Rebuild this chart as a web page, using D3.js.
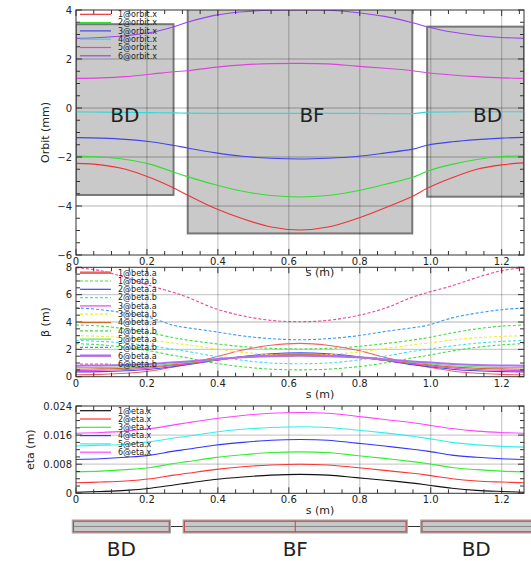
<!DOCTYPE html>
<html>
<head>
<meta charset="utf-8">
<script src="https://cdn.jsdelivr.net/npm/d3@7"></script>
<style>
  body { margin: 0; background: #fff; }
  text { font-family: "DejaVu Sans", sans-serif; fill: #222; }
</style>
</head>
<body>
<script>
var sPos = [0, 0.07, 0.14, 0.21, 0.276, 0.314, 0.39, 0.47, 0.55, 0.631, 0.71, 0.79, 0.87, 0.949, 0.99, 1.06, 1.13, 1.2, 1.263];
var sMax = 1.263;

// lattice elements
var elemNames = ["BD", "BF", "BD"];
var elemStart = [0, 0.315, 0.99];
var elemEnd = [0.275, 0.948, 1.263];
var elemApTop = [3.42, 4.3, 3.32];
var elemApBottom = [-3.55, -5.12, -3.62];

// orbit (mm)
var orbitLabels = ["1@orbit.x", "2@orbit.x", "3@orbit.x", "4@orbit.x", "5@orbit.x", "6@orbit.x"];
var orbitValues = [
  [-2.26, -2.32, -2.5, -2.85, -3.27, -3.55, -4.08, -4.52, -4.86, -4.98, -4.86, -4.52, -4.08, -3.6, -3.28, -2.85, -2.5, -2.32, -2.24],
  [-1.96, -2.0, -2.1, -2.3, -2.62, -2.8, -3.12, -3.4, -3.57, -3.63, -3.57, -3.39, -3.12, -2.83, -2.58, -2.3, -2.1, -1.98, -1.96],
  [-1.21, -1.23, -1.28, -1.38, -1.53, -1.63, -1.82, -1.97, -2.05, -2.08, -2.05, -1.98, -1.84, -1.68, -1.52, -1.38, -1.29, -1.23, -1.2],
  [-0.16, -0.17, -0.18, -0.19, -0.2, -0.21, -0.22, -0.22, -0.22, -0.22, -0.22, -0.22, -0.23, -0.23, -0.17, -0.16, -0.15, -0.15, -0.15],
  [1.21, 1.23, 1.28, 1.38, 1.48, 1.52, 1.66, 1.76, 1.81, 1.82, 1.8, 1.71, 1.62, 1.52, 1.44, 1.35, 1.28, 1.23, 1.21],
  [2.84, 2.88, 2.95, 3.08, 3.32, 3.5, 3.78, 3.93, 3.99, 4.0, 3.99, 3.9, 3.74, 3.48, 3.32, 3.1, 2.96, 2.88, 2.84]
];
var orbitColors = ["#ee3333", "#33dd33", "#4444ee", "#33d8d8", "#dd44dd", "#9944ee"];

// beta (m)
var betaLabels = ["1@beta.a", "1@beta.b", "2@beta.a", "2@beta.b", "3@beta.a", "3@beta.b",
                  "4@beta.a", "4@beta.b", "5@beta.a", "5@beta.b", "6@beta.a", "6@beta.b"];
var betaValues = [
  [0.14, 0.17, 0.25, 0.42, 0.72, 0.92, 1.42, 1.95, 2.3, 2.44, 2.3, 1.95, 1.42, 0.92, 0.72, 0.42, 0.25, 0.17, 0.14],
  [2.42, 2.33, 2.15, 1.88, 1.55, 1.38, 1.0, 0.72, 0.55, 0.5, 0.55, 0.72, 1.0, 1.38, 1.55, 1.88, 2.15, 2.33, 2.42],
  [0.35, 0.37, 0.43, 0.55, 0.75, 0.88, 1.18, 1.48, 1.68, 1.75, 1.68, 1.48, 1.18, 0.88, 0.75, 0.55, 0.43, 0.37, 0.35],
  [2.65, 2.58, 2.45, 2.25, 2.0, 1.85, 1.5, 1.2, 1.0, 0.95, 1.0, 1.2, 1.5, 1.85, 2.0, 2.25, 2.45, 2.58, 2.65],
  [0.45, 0.47, 0.53, 0.64, 0.82, 0.94, 1.2, 1.45, 1.62, 1.68, 1.62, 1.45, 1.2, 0.94, 0.82, 0.64, 0.53, 0.47, 0.45],
  [3.0, 2.95, 2.85, 2.68, 2.45, 2.33, 2.05, 1.78, 1.62, 1.58, 1.62, 1.78, 2.05, 2.33, 2.45, 2.68, 2.85, 2.95, 3.0],
  [0.55, 0.57, 0.62, 0.72, 0.88, 0.98, 1.22, 1.43, 1.57, 1.62, 1.57, 1.43, 1.22, 0.98, 0.88, 0.72, 0.62, 0.57, 0.55],
  [3.78, 3.7, 3.5, 3.2, 2.85, 2.68, 2.42, 2.2, 2.07, 2.03, 2.07, 2.2, 2.42, 2.68, 2.85, 3.2, 3.5, 3.7, 3.78],
  [0.66, 0.68, 0.72, 0.8, 0.95, 1.04, 1.24, 1.42, 1.53, 1.57, 1.53, 1.42, 1.24, 1.04, 0.95, 0.8, 0.72, 0.68, 0.66],
  [5.04, 4.9, 4.65, 4.3, 3.75, 3.58, 3.3, 2.98, 2.78, 2.7, 2.78, 2.98, 3.3, 3.58, 3.75, 4.3, 4.65, 4.9, 5.04],
  [0.8, 0.82, 0.86, 0.93, 1.05, 1.12, 1.28, 1.42, 1.5, 1.53, 1.5, 1.42, 1.28, 1.12, 1.05, 0.93, 0.86, 0.82, 0.8],
  [7.98, 7.75, 7.25, 6.65, 6.15, 5.82, 5.0, 4.45, 4.12, 4.02, 4.12, 4.45, 5.0, 5.82, 6.15, 6.65, 7.25, 7.75, 7.98]
];
var betaColors = ["#f06060", "#44dd44", "#4444ee", "#44ddee", "#ee44ee", "#eeee33",
                  "#cc6622", "#44dd44", "#66dd66", "#3399ff", "#b070f0", "#ee4499"];
var betaDashed = [false, true, false, true, false, true, false, true, false, true, false, true];

// eta (m)
var etaLabels = ["1@eta.x", "2@eta.x", "3@eta.x", "4@eta.x", "5@eta.x", "6@eta.x"];
var etaValues = [
  [0.0003, 0.0005, 0.0008, 0.0014, 0.0023, 0.0028, 0.0038, 0.0045, 0.0050, 0.0052, 0.0050, 0.0043, 0.0036, 0.0028, 0.0023, 0.0014, 0.0008, 0.0005, 0.0003],
  [0.0029, 0.0031, 0.0034, 0.0040, 0.0050, 0.0055, 0.0065, 0.0073, 0.0078, 0.0080, 0.0078, 0.0071, 0.0063, 0.0055, 0.0050, 0.0040, 0.0034, 0.0031, 0.0029],
  [0.0059, 0.0061, 0.0065, 0.0071, 0.0082, 0.0087, 0.0098, 0.0106, 0.0112, 0.0114, 0.0112, 0.0104, 0.0096, 0.0087, 0.0082, 0.0071, 0.0065, 0.0061, 0.0059],
  [0.0093, 0.0095, 0.0099, 0.0105, 0.0116, 0.0121, 0.0132, 0.0140, 0.0146, 0.0148, 0.0146, 0.0138, 0.0130, 0.0121, 0.0116, 0.0105, 0.0099, 0.0095, 0.0093],
  [0.0130, 0.0132, 0.0135, 0.0142, 0.0152, 0.0157, 0.0168, 0.0176, 0.0181, 0.0183, 0.0181, 0.0174, 0.0166, 0.0157, 0.0151, 0.0140, 0.0133, 0.0129, 0.0127],
  [0.0165, 0.0167, 0.0171, 0.0178, 0.0188, 0.0194, 0.0205, 0.0214, 0.0220, 0.0222, 0.0220, 0.0212, 0.0203, 0.0194, 0.0188, 0.0178, 0.0171, 0.0167, 0.0165]
];
var etaColors = ["#111111", "#ff3333", "#33ee33", "#3333ff", "#33eeee", "#ff44ff"];

var xTicks = [0, 0.2, 0.4, 0.6, 0.8, 1.0, 1.2];

var width = 531, height = 561;
var svg = d3.select("body").append("svg").attr("width", width).attr("height", height);

var x = d3.scaleLinear().domain([0, sMax]).range([76, 524]);
var xFmt = function(d) { return d === 0 ? "0" : d3.format(".1f")(d); };
var line = function(y) {
  return d3.line().x(function(d, i) { return x(sPos[i]); }).y(function(d) { return y(d); })
    .curve(d3.curveCatmullRom.alpha(0.5));
};

function panel(opt) {
  var y = d3.scaleLinear().domain(opt.domain).range(opt.range);
  var g = svg.append("g");
  var x0 = x.range()[0], x1 = x.range()[1], y0 = y.range()[0], y1 = y.range()[1];
  var id = "clip" + opt.name;
  svg.append("clipPath").attr("id", id).append("rect")
    .attr("x", x0).attr("y", y1).attr("width", x1 - x0).attr("height", y0 - y1);

  var under = g.append("g").attr("clip-path", "url(#" + id + ")");
  if (opt.under) opt.under(under, y);

  // grid
  var grid = g.append("g").attr("stroke", "rgba(0,0,0,0.2)").attr("stroke-width", 1.3);
  grid.selectAll(".gx").data(xTicks.slice(1)).enter().append("line")
    .attr("x1", x).attr("x2", x).attr("y1", y1).attr("y2", y0);
  grid.selectAll(".gy").data(opt.ticks.slice(1, -1)).enter().append("line")
    .attr("x1", x0).attr("x2", x1).attr("y1", y).attr("y2", y);

  // curves
  var curves = g.append("g").attr("clip-path", "url(#" + id + ")").attr("fill", "none");
  opt.series.forEach(function(s) {
    curves.append("path").datum(s.values)
      .attr("stroke", s.color).attr("stroke-width", s.width || 1.1)
      .attr("stroke-dasharray", s.dashed ? "3,2" : null)
      .attr("d", line(y));
  });

  // frame and inward ticks
  g.append("rect").attr("x", x0).attr("y", y1).attr("width", x1 - x0).attr("height", y0 - y1)
    .attr("fill", "none").attr("stroke", "#333").attr("stroke-width", 1);
  var tk = g.append("g").attr("stroke", "#333").attr("stroke-width", 1);
  var xMinor = d3.range(0, sMax + 1e-9, 0.05);
  xMinor.forEach(function(v, i) {
    var len = i % 4 === 0 ? 6 : 4;
    tk.append("line").attr("x1", x(v)).attr("x2", x(v)).attr("y1", y0).attr("y2", y0 - len);
    tk.append("line").attr("x1", x(v)).attr("x2", x(v)).attr("y1", y1).attr("y2", y1 + len);
  });
  var yMinor = d3.range(opt.domain[0], opt.domain[1] + 1e-9, opt.minor);
  yMinor.forEach(function(v) {
    var len = Math.abs(Math.round(v / opt.minor) % Math.round(opt.step / opt.minor)) === 0 ? 6 : 4;
    tk.append("line").attr("x1", x0).attr("x2", x0 + len).attr("y1", y(v)).attr("y2", y(v));
    tk.append("line").attr("x1", x1).attr("x2", x1 - len).attr("y1", y(v)).attr("y2", y(v));
  });

  // tick labels
  g.selectAll(".xl").data(xTicks).enter().append("text")
    .attr("x", x).attr("y", y0 + 10).attr("text-anchor", "middle")
    .attr("font-size", 10).text(xFmt);
  g.append("text").attr("x", 320).attr("y", y0 + 21).attr("text-anchor", "middle")
    .attr("font-size", 11).text("s (m)");
  g.selectAll(".yl").data(opt.ticks).enter().append("text")
    .attr("x", x0 - 4).attr("y", y).attr("dy", "0.35em").attr("text-anchor", "end")
    .attr("font-size", 10).text(opt.fmt);
  g.append("text").attr("transform", "translate(" + opt.titleX + "," + ((y0 + y1) / 2) + ") rotate(-90)")
    .attr("text-anchor", "middle").attr("font-size", 11).text(opt.title);

  // legend
  var lg = g.append("g");
  opt.series.forEach(function(s, i) {
    var ly = opt.legendTop + i * 8.3;
    lg.append("line").attr("x1", 80).attr("x2", 111).attr("y1", ly).attr("y2", ly)
      .attr("stroke", s.color).attr("stroke-width", s.legendWidth || 1.2)
      .attr("stroke-dasharray", s.dashed ? "3,2" : null);
    lg.append("text").attr("x", 118).attr("y", ly).attr("dy", "0.35em")
      .attr("font-size", 8).text(s.label);
  });
  return y;
}

// orbit panel
panel({
  name: "orbit", domain: [-6, 4], range: [255, 10], step: 2, minor: 0.5, titleX: 49,
  ticks: [-6, -4, -2, 0, 2, 4], fmt: d3.format("d"), title: "Orbit (mm)", legendTop: 14.3,
  series: orbitLabels.map(function(l, i) { return { label: l, values: orbitValues[i], color: orbitColors[i] }; }),
  under: function(g, y) {
    elemNames.forEach(function(n, i) {
      g.append("rect").attr("x", x(elemStart[i])).attr("y", y(elemApTop[i]))
        .attr("width", x(elemEnd[i]) - x(elemStart[i]))
        .attr("height", y(elemApBottom[i]) - y(elemApTop[i]))
        .attr("fill", "#c9c9c9").attr("stroke", "#777").attr("stroke-width", 2);
    });
  }
});
// element names in the orbit panel
elemNames.forEach(function(n, i) {
  svg.append("text").attr("x", (x(elemStart[i]) + x(elemEnd[i])) / 2 + (i ? 12 : 0)).attr("y", 122)
    .attr("text-anchor", "middle").attr("font-family", "Liberation Sans, Arial, sans-serif")
    .attr("font-size", 20).text(n);
});

// beta panel
panel({
  name: "beta", domain: [0, 8], range: [376.7, 267.3], step: 2, minor: 0.5, titleX: 49,
  ticks: [0, 2, 4, 6, 8], fmt: d3.format("d"), title: "\u03b2 (m)", legendTop: 272.7,
  series: betaLabels.map(function(l, i) {
    return { label: l, values: betaValues[i], color: betaColors[i], dashed: betaDashed[i],
             width: i === 10 ? 2 : 1.1, legendWidth: (i === 0 || i === 10) ? 2.5 : 1.2 };
  })
});

// eta panel
panel({
  name: "eta", domain: [0, 0.024], range: [493.3, 406], step: 0.008, minor: 0.002, titleX: 34,
  ticks: [0, 0.008, 0.016, 0.024], fmt: function(d) { return d === 0 ? "0" : d3.format(".3f")(d); },
  title: "eta (m)", legendTop: 410.7,
  series: etaLabels.map(function(l, i) { return { label: l, values: etaValues[i], color: etaColors[i] }; })
});

// lattice layout
var xL = d3.scaleLinear().domain([0, sMax]).range([73, 517.5]);
var lat = svg.append("g");
var ly0 = 520.7, ly1 = 532.3, lyc = (ly0 + ly1) / 2;
lat.append("line").attr("x1", xL(0)).attr("x2", width).attr("y1", lyc).attr("y2", lyc)
  .attr("stroke", "#333").attr("stroke-width", 1);
elemNames.forEach(function(n, i) {
  var a = xL(elemStart[i]);
  var b = i === elemNames.length - 1 ? width + 4 : xL(elemEnd[i]);
  lat.append("rect").attr("x", a).attr("y", ly0).attr("width", b - a).attr("height", ly1 - ly0)
    .attr("fill", "#c8c8c8").attr("stroke", "#a8a8a8").attr("stroke-width", 2.5);
  lat.append("rect").attr("x", a + 0.5).attr("y", ly0 + 0.5).attr("width", b - a - 1).attr("height", ly1 - ly0 - 1)
    .attr("fill", "none").attr("stroke", "#cc4444").attr("stroke-width", 1);
  lat.append("line").attr("x1", a + 1).attr("x2", b - 1).attr("y1", lyc).attr("y2", lyc)
    .attr("stroke", "#888").attr("stroke-width", 1);
  if (n === "BF") {
    var c = xL((elemStart[i] + elemEnd[i]) / 2);
    lat.append("line").attr("x1", c).attr("x2", c).attr("y1", ly0).attr("y2", ly1)
      .attr("stroke", "#cc4444").attr("stroke-width", 1);
  }
  lat.append("text").attr("x", (a + Math.min(b, width)) / 2).attr("y", 556)
    .attr("text-anchor", "middle").attr("font-family", "Liberation Sans, Arial, sans-serif")
    .attr("font-size", 20).text(n);
});
</script>
</body>
</html>
